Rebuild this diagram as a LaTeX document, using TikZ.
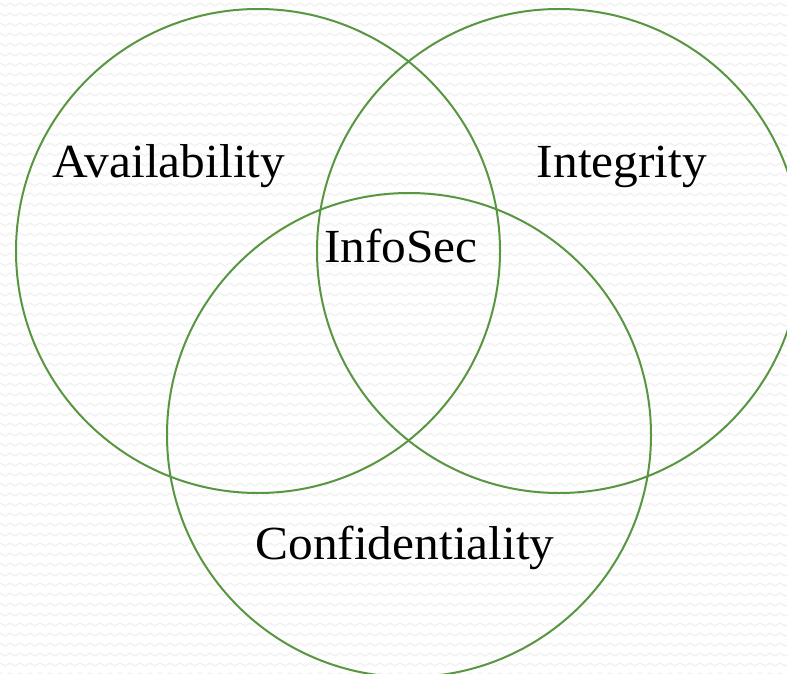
\documentclass[tikz,border=0pt]{standalone}
\usepackage{fontspec}
\setmainfont[FakeStretch=1.04]{Liberation Serif}
\begin{document}
\begin{tikzpicture}[x=1pt,y=-1pt,
  ring/.style={draw=ringgreen,line width=2pt},
  label/.style={anchor=base,inner sep=0pt,font=\fontsize{47.5}{52}\selectfont}]
\definecolor{ringgreen}{RGB}{88,150,66}
\definecolor{zig}{RGB}{241,241,241}
\useasboundingbox (0,0) rectangle (787,674);
\fill[white] (0,0) rectangle (787,674);
% faint zigzag texture of the backdrop
\foreach \r in {0,...,68}{
  \draw[zig,line width=1.3pt,line join=round]
    plot[domain=0:160,samples=161] ({\x*5-5},{\r*10+3+3*abs(mod(\x,2)-1)});
}
% the three overlapping rings
\draw[ring] (258,251) circle (242);
\draw[ring] (559,251) circle (242);
\draw[ring] (409,435) circle (242);
% labels
\node[label] (avail) at (169,177) {Availability};
\node[label] (integ) at (622,177) {Integrity};
\node[label] (info) at (401,262) {InfoSec};
\node[label] (conf) at (405,559) {Confidentiality};
\end{tikzpicture}
\end{document}
